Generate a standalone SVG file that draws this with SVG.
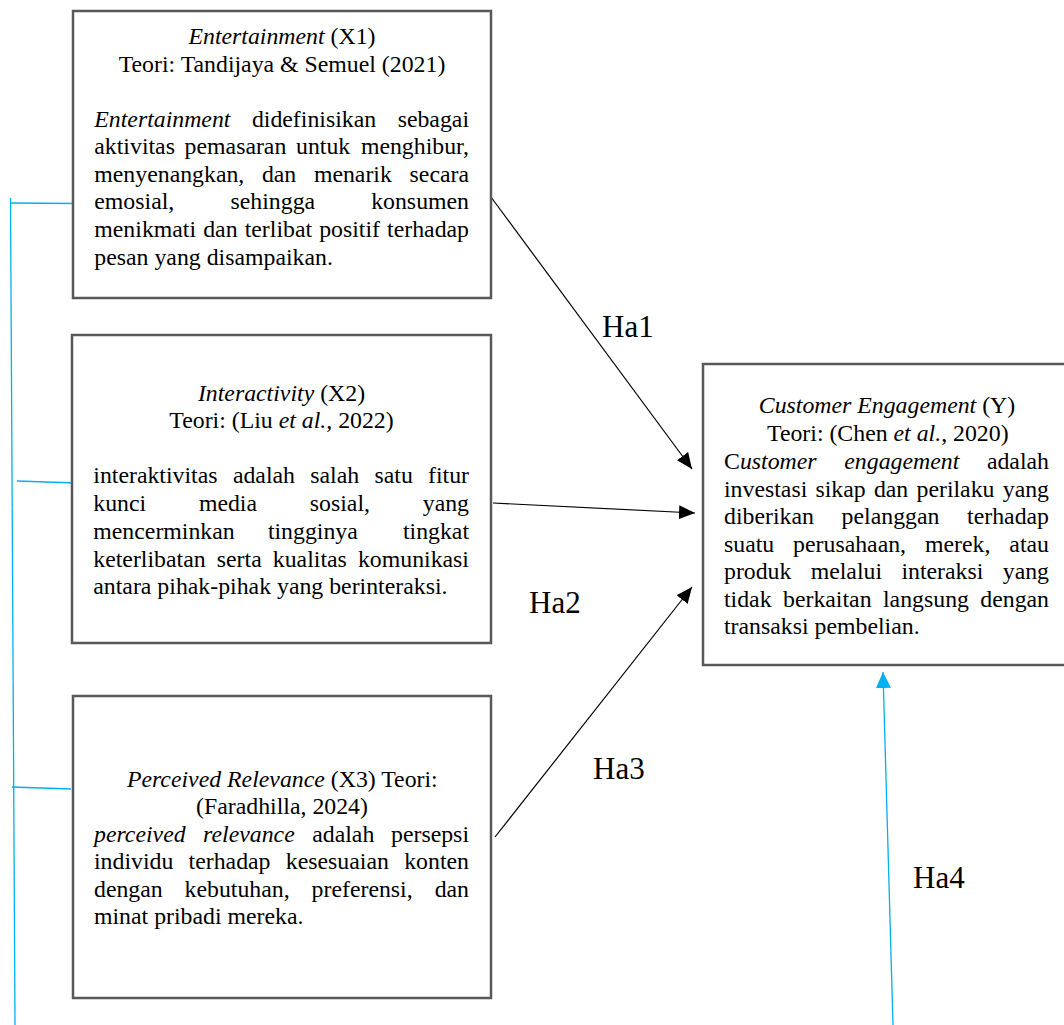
<svg xmlns="http://www.w3.org/2000/svg" width="1064" height="1025" viewBox="0 0 1064 1025">
<style>
.t{font-family:"Liberation Serif","Times New Roman",serif;font-size:23.8px;fill:#000}
.i{font-style:italic}
.m{text-anchor:middle}
.e{text-anchor:end}
.ha{font-family:"Liberation Serif","Times New Roman",serif;font-size:31px;fill:#000}
.box{fill:#fff;stroke:#595959;stroke-width:2.5}
.blk{stroke:#000;stroke-width:1.2;fill:none}
.blu{stroke:#00B0F0;stroke-width:1.3;fill:none}
</style>
<defs>
<marker id="ah" markerWidth="16" markerHeight="14" refX="16" refY="7" orient="auto" markerUnits="userSpaceOnUse"><path d="M0,0 L16,7 L0,14 z" fill="#000"/></marker>
<marker id="ahb" markerWidth="16" markerHeight="15" refX="16" refY="7.5" orient="auto" markerUnits="userSpaceOnUse"><path d="M0,0 L16,7.5 L0,15 z" fill="#00B0F0"/></marker>
</defs>
<rect width="1064" height="1025" fill="#fff"/>

<g id="connectors">
<line class="blu" x1="10.5" y1="198" x2="15" y2="1025"/>
<line class="blu" x1="11" y1="203" x2="76" y2="203.5"/>
<line class="blu" x1="17" y1="481" x2="76" y2="483"/>
<line class="blu" x1="12" y1="787" x2="71" y2="789"/>
<line class="blk" x1="491.7" y1="198" x2="692" y2="469" marker-end="url(#ah)"/>
<line class="blk" x1="493" y1="503" x2="695" y2="513" marker-end="url(#ah)"/>
<line class="blk" x1="495" y1="837" x2="692" y2="587" marker-end="url(#ah)"/>
<line class="blu" x1="893" y1="1025" x2="883" y2="672" marker-end="url(#ahb)"/>
<text class="ha" x="602" y="337">Ha1</text>
<text class="ha" x="529" y="613">Ha2</text>
<text class="ha" x="593" y="779">Ha3</text>
<text class="ha" x="913" y="888">Ha4</text>
</g>

<g id="node-x1">
<rect class="box" x="73" y="11" width="418" height="287"/>
<text class="t m" x="282" y="44.3"><tspan class="i">Entertainment</tspan> (X1)</text>
<text class="t m" x="282" y="71.7">Teori: Tandijaya &amp; Semuel (2021)</text>
<text class="t i" x="94.3" y="126.7">Entertainment</text>
<text class="t" x="251.9" y="126.7">didefinisikan</text>
<text class="t e" x="469" y="126.7">sebagai</text>
<text class="t" x="94.3" y="154.3">aktivitas</text>
<text class="t" x="184.6" y="154.3">pemasaran</text>
<text class="t" x="296" y="154.3">untuk</text>
<text class="t e" x="469" y="154.3">menghibur,</text>
<text class="t" x="94.3" y="181.7">menyenangkan,</text>
<text class="t" x="261.9" y="181.7">dan</text>
<text class="t" x="313.9" y="181.7">menarik</text>
<text class="t e" x="469" y="181.7">secara</text>
<text class="t" x="94.3" y="209.3">emosial,</text>
<text class="t" x="230.5" y="209.3">sehingga</text>
<text class="t e" x="469" y="209.3">konsumen</text>
<text class="t" x="94.3" y="237.3">menikmati</text>
<text class="t" x="203.2" y="237.3">dan</text>
<text class="t" x="244.7" y="237.3">terlibat</text>
<text class="t" x="319.2" y="237.3">positif</text>
<text class="t e" x="469" y="237.3">terhadap</text>
<text class="t" x="94.3" y="265">pesan yang disampaikan.</text>
</g>

<g id="node-x2">
<rect class="box" x="72" y="335" width="419" height="308"/>
<text class="t m" x="281.5" y="401"><tspan class="i">Interactivity</tspan> (X2)</text>
<text class="t m" x="281.5" y="428.3">Teori: (Liu <tspan class="i">et al.,</tspan> 2022)</text>
<text class="t" x="93.3" y="483.3">interaktivitas</text>
<text class="t" x="232.9" y="483.3">adalah</text>
<text class="t" x="310.3" y="483.3">salah</text>
<text class="t" x="374.5" y="483.3">satu</text>
<text class="t e" x="469" y="483.3">fitur</text>
<text class="t" x="93.3" y="511">kunci</text>
<text class="t" x="198.9" y="511">media</text>
<text class="t" x="309.8" y="511">sosial,</text>
<text class="t e" x="469" y="511">yang</text>
<text class="t" x="93.3" y="539.3">mencerminkan</text>
<text class="t" x="267.9" y="539.3">tingginya</text>
<text class="t e" x="469" y="539.3">tingkat</text>
<text class="t" x="93.3" y="566.7">keterlibatan</text>
<text class="t" x="216.8" y="566.7">serta</text>
<text class="t" x="272.8" y="566.7">kualitas</text>
<text class="t e" x="469" y="566.7">komunikasi</text>
<text class="t" x="93.3" y="594">antara pihak-pihak yang berinteraksi.</text>
</g>

<g id="node-x3">
<rect class="box" x="73" y="696" width="418" height="302"/>
<text class="t m" x="282.3" y="786.7"><tspan class="i">Perceived Relevance</tspan> (X3) Teori:</text>
<text class="t m" x="282" y="814.3">(Faradhilla, 2024)</text>
<text class="t i" x="94" y="841.7">perceived</text>
<text class="t i" x="203.1" y="841.7">relevance</text>
<text class="t" x="312.2" y="841.7">adalah</text>
<text class="t e" x="469" y="841.7">persepsi</text>
<text class="t" x="94" y="869.3">individu</text>
<text class="t" x="188.6" y="869.3">terhadap</text>
<text class="t" x="285.8" y="869.3">kesesuaian</text>
<text class="t e" x="469" y="869.3">konten</text>
<text class="t" x="94" y="896.7">dengan</text>
<text class="t" x="184.6" y="896.7">kebutuhan,</text>
<text class="t" x="311.6" y="896.7">preferensi,</text>
<text class="t e" x="469" y="896.7">dan</text>
<text class="t" x="94" y="924">minat pribadi mereka.</text>
</g>

<g id="node-y">
<rect class="box" x="703" y="364" width="368" height="301"/>
<text class="t m" x="887" y="412.7"><tspan class="i">Customer Engagement</tspan> (Y)</text>
<text class="t m" x="887.8" y="440.7">Teori: (Chen <tspan class="i">et al.</tspan>, 2020)</text>
<text class="t" x="724" y="469">C<tspan class="i">ustomer</tspan></text>
<text class="t i" x="844.3" y="469">engagement</text>
<text class="t e" x="1049" y="469">adalah</text>
<text class="t" x="724" y="496.5">investasi</text>
<text class="t" x="815.5" y="496.5">sikap</text>
<text class="t" x="873.9" y="496.5">dan</text>
<text class="t" x="916.5" y="496.5">perilaku</text>
<text class="t e" x="1049" y="496.5">yang</text>
<text class="t" x="724" y="524">diberikan</text>
<text class="t" x="841.6" y="524">pelanggan</text>
<text class="t e" x="1049" y="524">terhadap</text>
<text class="t" x="724" y="551.7">suatu</text>
<text class="t" x="793.1" y="551.7">perusahaan,</text>
<text class="t" x="925" y="551.7">merek,</text>
<text class="t e" x="1049" y="551.7">atau</text>
<text class="t" x="724" y="579.3">produk</text>
<text class="t" x="810.7" y="579.3">melalui</text>
<text class="t" x="901.4" y="579.3">interaksi</text>
<text class="t e" x="1049" y="579.3">yang</text>
<text class="t" x="724" y="606.7">tidak</text>
<text class="t" x="783" y="606.7">berkaitan</text>
<text class="t" x="883" y="606.7">langsung</text>
<text class="t e" x="1049" y="606.7">dengan</text>
<text class="t" x="724" y="634.3">transaksi pembelian.</text>
</g>
</svg>
